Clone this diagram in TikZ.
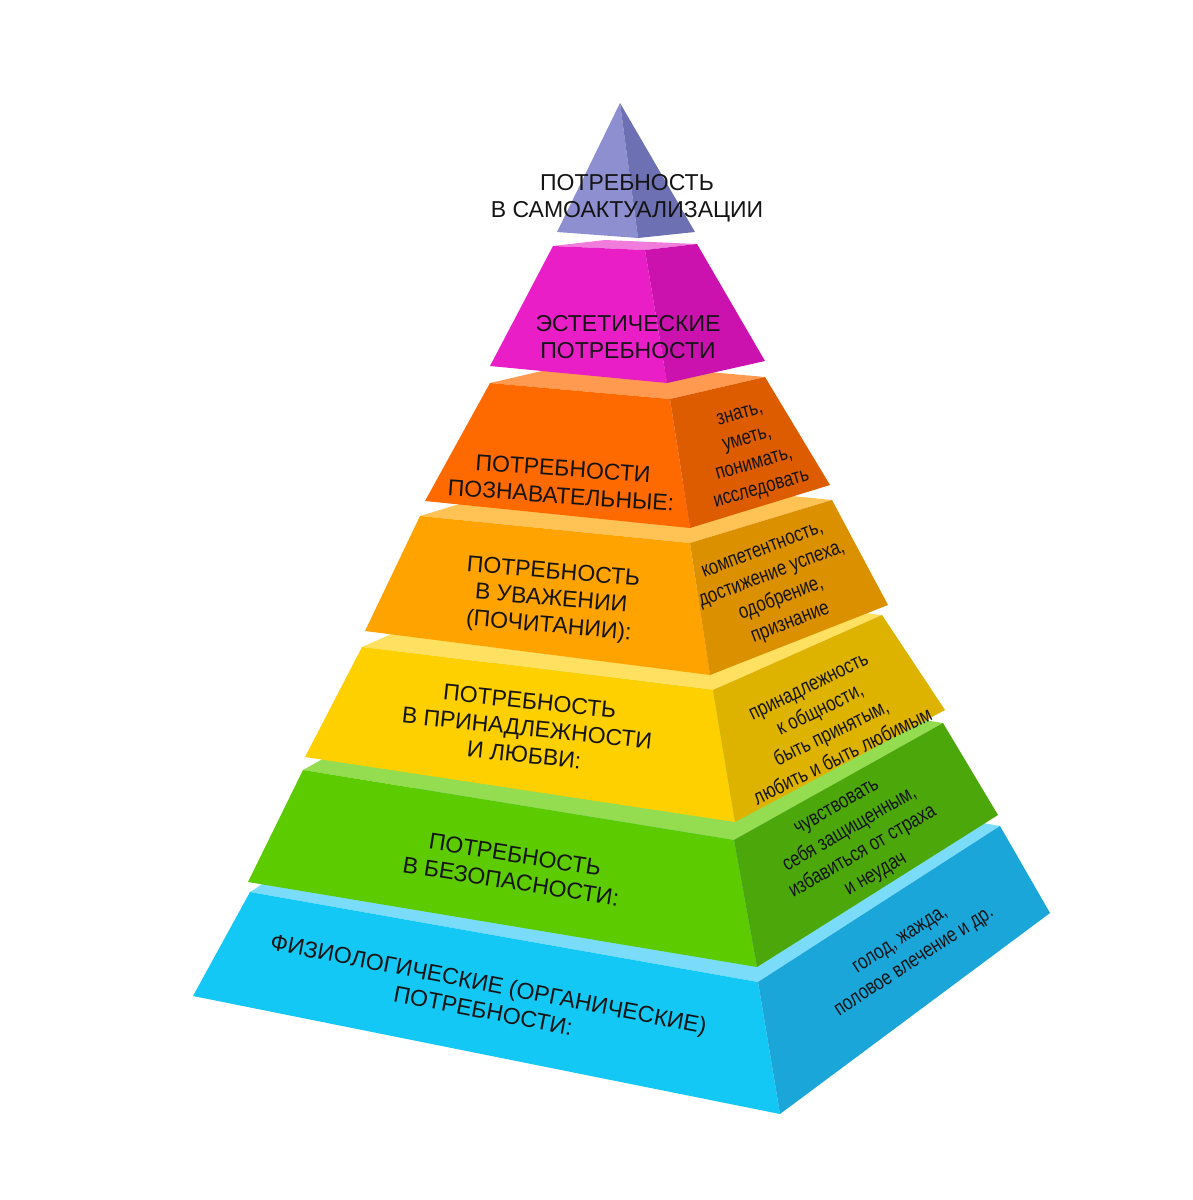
\documentclass[tikz,border=0pt]{standalone}
\usepackage{fontspec}
\setmainfont{Liberation Sans}
\usepackage{tikz}
\usepackage{color}
\usetikzlibrary{calc}

\definecolor{violetFront}{HTML}{8D8FD0}
\definecolor{violetSide}{HTML}{6D70B2}
\definecolor{pinkFront}{HTML}{E91EC6}
\definecolor{pinkSide}{HTML}{CC12AE}
\definecolor{pinkTop}{HTML}{F07CDC}
\definecolor{orangeFront}{HTML}{FF6A00}
\definecolor{orangeSide}{HTML}{DD5C00}
\definecolor{orangeTop}{HTML}{FF9A50}
\definecolor{amberFront}{HTML}{FFA300}
\definecolor{amberSide}{HTML}{DB9000}
\definecolor{amberTop}{HTML}{FFC255}
\definecolor{yellowFront}{HTML}{FFD000}
\definecolor{yellowSide}{HTML}{DDB300}
\definecolor{yellowTop}{HTML}{FFE060}
\definecolor{greenFront}{HTML}{5CCC00}
\definecolor{greenSide}{HTML}{4CA80A}
\definecolor{greenTop}{HTML}{94DC50}
\definecolor{blueFront}{HTML}{14C8F5}
\definecolor{blueSide}{HTML}{1AA6D9}
\definecolor{blueTop}{HTML}{7ADCF8}
\definecolor{labelInk}{HTML}{141414}

\begin{document}
\begin{tikzpicture}[x=1pt, y=-1pt,
    mainlabel/.style={align=center, text=labelInk, inner sep=0pt,
      font=\fontsize{23}{27}\selectfont},
    sidelabel/.style={align=center, text=labelInk, inner sep=0pt, xscale=.8,
      font=\fontsize{21}{26}\selectfont}]

  \useasboundingbox (0,0) rectangle (1193,1200);

  % Layer 1: physiological needs
  \coordinate (BlueTL) at (250,892);
  \coordinate (BlueTF) at (758,982);
  \coordinate (BlueTR) at (1000,826);
  \coordinate (BlueBL) at (193,996);
  \coordinate (BlueBF) at (780,1114);
  \coordinate (BlueBR) at (1050,913);
  \fill[blueTop] (BlueTL) -- (BlueTF) -- (BlueTR) -- ($(BlueTL)+(BlueTR)-(BlueTF)$) -- cycle;
  \fill[blueFront] (BlueTL) -- (BlueTF) -- (BlueBF) -- (BlueBL) -- cycle;
  \fill[blueSide] (BlueTF) -- (BlueTR) -- (BlueBR) -- (BlueBF) -- cycle;
  \node[mainlabel, rotate=-11] (BlueText) at (486,997)
    {ФИЗИОЛОГИЧЕСКИЕ (ОРГАНИЧЕСКИЕ)\\ПОТРЕБНОСТИ:};
  \node[rotate=33, sidelabel] (BlueNote) at (908,952)
    {голод, жажда,\\половое влечение и др.};

  % Layer 2: safety
  \coordinate (GreenTL) at (303,770);
  \coordinate (GreenTF) at (734,840);
  \coordinate (GreenTR) at (943,723);
  \coordinate (GreenBL) at (248,882);
  \coordinate (GreenBF) at (757,967);
  \coordinate (GreenBR) at (998,815);
  \fill[greenTop] (GreenTL) -- (GreenTF) -- (GreenTR) -- ($(GreenTL)+(GreenTR)-(GreenTF)$) -- cycle;
  \fill[greenFront] (GreenTL) -- (GreenTF) -- (GreenBF) -- (GreenBL) -- cycle;
  \fill[greenSide] (GreenTF) -- (GreenTR) -- (GreenBR) -- (GreenBF) -- cycle;
  \node[mainlabel, rotate=-9] (GreenText) at (513,868)
    {ПОТРЕБНОСТЬ\\В БЕЗОПАСНОСТИ:};
  \node[rotate=30, sidelabel] (GreenNote) at (857,842)
    {чувствовать\\себя защищенным,\\избавиться от страха\\и неудач};

  % Layer 3: belonging and love
  \coordinate (YellowTL) at (362,647);
  \coordinate (YellowTF) at (713,690);
  \coordinate (YellowTR) at (882,615);
  \coordinate (YellowBL) at (305,757);
  \coordinate (YellowBF) at (735,822);
  \coordinate (YellowBR) at (945,710);
  \fill[yellowTop] (YellowTL) -- (YellowTF) -- (YellowTR) -- ($(YellowTL)+(YellowTR)-(YellowTF)$) -- cycle;
  \fill[yellowFront] (YellowTL) -- (YellowTF) -- (YellowBF) -- (YellowBL) -- cycle;
  \fill[yellowSide] (YellowTF) -- (YellowTR) -- (YellowBR) -- (YellowBF) -- cycle;
  \node[mainlabel, rotate=-6] (YellowText) at (527,728)
    {ПОТРЕБНОСТЬ\\В ПРИНАДЛЕЖНОСТИ\\И ЛЮБВИ:};
  \node[rotate=26, sidelabel] (YellowNote) at (826,722)
    {принадлежность\\к общности,\\быть принятым,\\любить и быть любимым};

  % Layer 4: esteem
  \coordinate (AmberTL) at (420,516);
  \coordinate (AmberTF) at (690,543);
  \coordinate (AmberTR) at (832,500);
  \coordinate (AmberBL) at (365,631);
  \coordinate (AmberBF) at (710,675);
  \coordinate (AmberBR) at (888,605);
  \fill[amberTop] (AmberTL) -- (AmberTF) -- (AmberTR) -- ($(AmberTL)+(AmberTR)-(AmberTF)$) -- cycle;
  \fill[amberFront] (AmberTL) -- (AmberTF) -- (AmberBF) -- (AmberBL) -- cycle;
  \fill[amberSide] (AmberTF) -- (AmberTR) -- (AmberBR) -- (AmberBF) -- cycle;
  \node[mainlabel, rotate=-5] (AmberText) at (551,600)
    {ПОТРЕБНОСТЬ\\В УВАЖЕНИИ\\(ПОЧИТАНИИ):};
  \node[rotate=21, sidelabel] (AmberNote) at (777,588)
    {компетентность,\\достижение успеха,\\одобрение,\\признание};

  % Layer 5: cognitive
  \coordinate (OrangeTL) at (490,383);
  \coordinate (OrangeTF) at (670,399);
  \coordinate (OrangeTR) at (765,377);
  \coordinate (OrangeBL) at (425,501);
  \coordinate (OrangeBF) at (690,528);
  \coordinate (OrangeBR) at (830,485);
  \fill[orangeTop] (OrangeTL) -- (OrangeTF) -- (OrangeTR) -- ($(OrangeTL)+(OrangeTR)-(OrangeTF)$) -- cycle;
  \fill[orangeFront] (OrangeTL) -- (OrangeTF) -- (OrangeBF) -- (OrangeBL) -- cycle;
  \fill[orangeSide] (OrangeTF) -- (OrangeTR) -- (OrangeBR) -- (OrangeBF) -- cycle;
  \node[mainlabel, rotate=-4] (OrangeText) at (562,482)
    {ПОТРЕБНОСТИ\\ПОЗНАВАТЕЛЬНЫЕ:};
  \node[rotate=16, sidelabel] (OrangeNote) at (751,453)
    {знать,\\уметь,\\понимать,\\исследовать};

  % Layer 6: aesthetic
  \coordinate (PinkTL) at (553,246);
  \coordinate (PinkTF) at (645,250);
  \coordinate (PinkTR) at (697,244);
  \coordinate (PinkBL) at (490,366);
  \coordinate (PinkBF) at (667,383);
  \coordinate (PinkBR) at (765,361);
  \fill[pinkTop] (PinkTL) -- (PinkTF) -- (PinkTR) -- ($(PinkTL)+(PinkTR)-(PinkTF)$) -- cycle;
  \fill[pinkFront] (PinkTL) -- (PinkTF) -- (PinkBF) -- (PinkBL) -- cycle;
  \fill[pinkSide] (PinkTF) -- (PinkTR) -- (PinkBR) -- (PinkBF) -- cycle;
  \node[mainlabel] (PinkText) at (628,337)
    {ЭСТЕТИЧЕСКИЕ\\ПОТРЕБНОСТИ};

  % Apex: self-actualization
  \coordinate (Apex) at (620,103);
  \coordinate (VioletBL) at (557,232);
  \coordinate (VioletBF) at (638,238);
  \coordinate (VioletBR) at (695,232);
  \fill[violetFront] (Apex) -- (VioletBF) -- (VioletBL) -- cycle;
  \fill[violetSide] (Apex) -- (VioletBR) -- (VioletBF) -- cycle;
  \node[mainlabel] (VioletText) at (627,198)
    {ПОТРЕБНОСТЬ\\В САМОАКТУАЛИЗАЦИИ};

\end{tikzpicture}
\end{document}
